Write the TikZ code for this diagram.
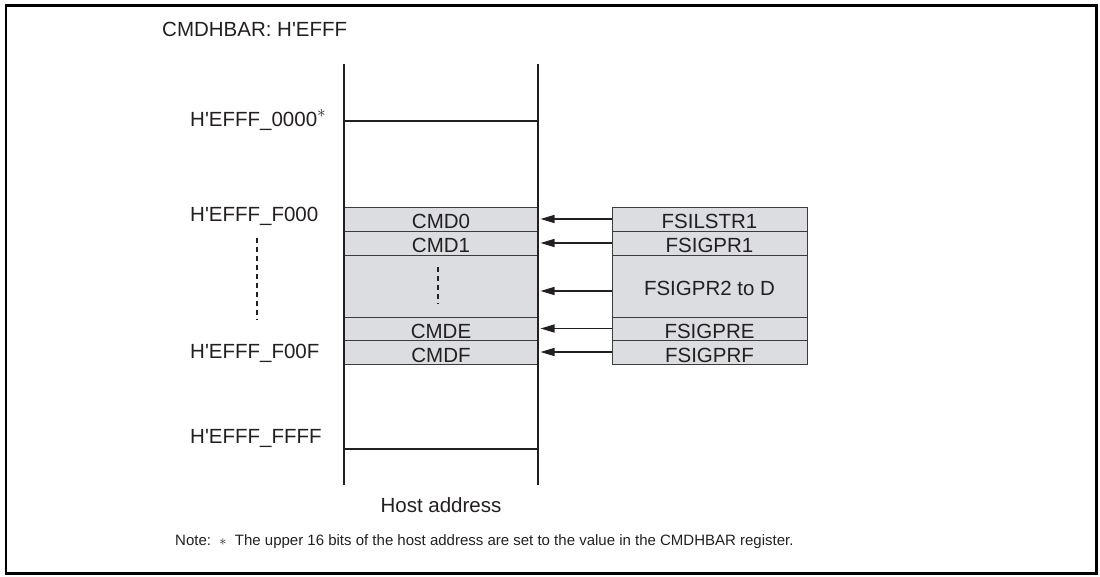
\documentclass[tikz,border=0pt]{standalone}
\usepackage{fontspec}
\setmainfont{Liberation Sans}
\usetikzlibrary{arrows.meta}
\definecolor{rowgray}{RGB}{220,221,224}
\definecolor{ink}{RGB}{35,31,32}
\definecolor{rowline}{RGB}{60,60,62}
\newcommand\hq{H\textquotesingle EFFF}
\begin{document}
\begin{tikzpicture}[x=1pt,y=-1pt,
  font=\fontsize{20.5}{24}\selectfont, text=ink,
  lbl/.style={inner sep=0pt, text height=0.716em, text depth=0pt},
  rowbox/.style={draw=rowline, line width=0.9pt, fill=rowgray, inner sep=0pt,
     minimum height=24pt, text height=20pt, text depth=0pt},
  lrow/.style={rowbox, minimum width=194pt},
  rrow/.style={rowbox, minimum width=195pt},
  mainline/.style={draw=ink, line width=2.6pt},
  arr/.style={draw=ink, line width=1.3pt, -{Triangle[length=14pt,width=8pt]}},
  dotline/.style={draw=ink, line width=2.6pt, dash pattern=on 5pt off 4pt}
]
\useasboundingbox (0,0) rectangle (1100,577);
\draw[draw=black, line width=2.6pt] (6,5.5) rectangle (1096.5,573.5);

% title
\node[lbl, anchor=west] (title) at (162,33) {CMDHBAR: \hq};

% address labels
\node[lbl, anchor=west] (a0) at (190,123) {\hq\_0000\raisebox{0.42em}{\fontsize{19}{19}\selectfont$\ast$}};
\node[lbl, anchor=west] (a1) at (190,218) {\hq\_F000};
\node[lbl, anchor=west] (a2) at (190,355) {\hq\_F00F};
\node[lbl, anchor=west] (a3) at (190,440) {\hq\_FFFF};
\coordinate (d1) at (257,238);
\coordinate (d2) at (257,320);
\draw[dotline] (d1) -- (d2);

% left column rows
\node[lrow] (c0) at (441,219) {CMD0};
\node[lrow] (c1) at (441,243) {CMD1};
\node[lrow, minimum height=62pt] (cm) at (441,286) {};
\node[lrow, minimum height=23pt] (ce) at (441,328.5) {CMDE};
\node[lrow] (cf) at (441,352) {CMDF};
\coordinate (m1) at (438,267);
\coordinate (m2) at (438,304);
\draw[dotline] (m1) -- (m2);

% right column rows
\node[rrow] (r0) at (709.5,219) {FSILSTR1};
\node[rrow] (r1) at (709.5,243) {FSIGPR1};
\node[rrow, minimum height=62pt] (rm) at (709.5,286) {FSIGPR2 to D};
\node[rrow, minimum height=23pt] (re) at (709.5,328.5) {FSIGPRE};
\node[rrow] (rf) at (709.5,352) {FSIGPRF};

% main vertical lines
\coordinate (lt) at (344,64);
\coordinate (lb) at (344,485);
\coordinate (rt) at (538,64);
\coordinate (rb) at (538,485);
\draw[mainline] (lt) -- (lb);
\draw[mainline] (rt) -- (rb);
\coordinate (h0l) at (344,121);
\coordinate (h0r) at (538,121);
\draw[mainline] (h0l) -- (h0r);
\coordinate (h1l) at (344,449);
\coordinate (h1r) at (538,449);
\draw[mainline] (h1l) -- (h1r);

% arrows
\coordinate (tip) at (540.5,0);
\draw[arr] (r0.west) -- (r0.west -| tip);
\draw[arr] (r1.west) -- (r1.west -| tip);
\draw[arr] ([yshift=-5pt]rm.west) -- ([yshift=-5pt]rm.west -| tip);
\draw[arr] (re.west) -- (re.west -| tip);
\draw[arr] (rf.west) -- (rf.west -| tip);

% bottom texts
\node[lbl, anchor=center] (host) at (441,509) {Host address};
\node[lbl, anchor=west, font=\fontsize{15}{18}\selectfont] (note) at (175,542)
  {Note:\ \ $\ast$\ \ The upper 16 bits of the host address are set to the value in the CMDHBAR register.};
\end{tikzpicture}
\end{document}
